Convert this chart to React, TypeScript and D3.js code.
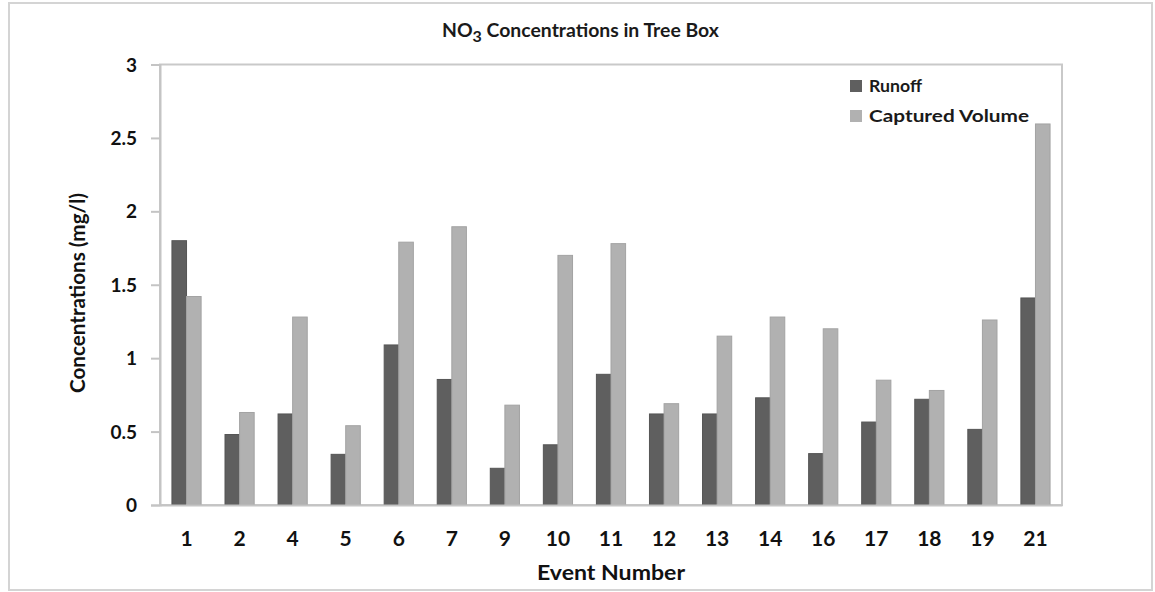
import { useEffect, useRef } from 'react';
import * as d3 from 'd3';

const EVENTS = ['1', '2', '4', '5', '6', '7', '9', '10', '11', '12', '13', '14', '16', '17', '18', '19', '21'];
const RUNOFF = [1.8, 0.48, 0.62, 0.345, 1.09, 0.855, 0.25, 0.41, 0.89, 0.62, 0.62, 0.73, 0.35, 0.565, 0.72, 0.515, 1.41];
const CAPTURED = [1.42, 0.63, 1.28, 0.54, 1.79, 1.895, 0.68, 1.7, 1.78, 0.69, 1.15, 1.28, 1.2, 0.85, 0.78, 1.26, 2.595];
const SERIES = ['Runoff', 'Captured Volume'];
const Y_TICKS = [0, 0.5, 1, 1.5, 2, 2.5, 3];

const COLORS = ['#5f5f5f', '#b1b1b1'];
const STROKES = ['#555555', '#a3a3a3'];
const FONT = 'Lato, "Open Sans", sans-serif';

const App = () => {
  const svgRef = useRef<SVGSVGElement>(null);

  useEffect(() => {
    if (!svgRef.current) return;
    d3.select(svgRef.current).selectAll('*').remove();

    const width = 1155;
    const height = 592;
    const plot = { left: 160, right: 1062, top: 64.5, bottom: 505 };

    const svg = d3.select(svgRef.current).attr('width', width).attr('height', height);

    // outer chart frame
    svg
      .append('rect')
      .attr('x', 9)
      .attr('y', 3)
      .attr('width', 1143)
      .attr('height', 587)
      .attr('fill', '#fff')
      .attr('stroke', '#d4d4d4')
      .attr('stroke-width', 2);

    const x0 = d3
      .scaleBand<string>()
      .domain(EVENTS)
      .range([plot.left, plot.right])
      .paddingInner(0.45)
      .paddingOuter(0.225);

    const x1 = d3.scaleBand<number>().domain([0, 1]).range([0, x0.bandwidth()]);

    const y = d3.scaleLinear().domain([0, 3]).range([plot.bottom, plot.top]);

    // plot area border (top / right)
    svg
      .append('rect')
      .attr('x', plot.left)
      .attr('y', plot.top)
      .attr('width', plot.right - plot.left)
      .attr('height', plot.bottom - plot.top)
      .attr('fill', 'none')
      .attr('stroke', '#c9c9c9')
      .attr('stroke-width', 2);

    // bars
    const rows = EVENTS.map((e, i) => ({ e, vals: [RUNOFF[i], CAPTURED[i]] }));
    const groups = svg
      .append('g')
      .selectAll('g')
      .data(rows)
      .join('g')
      .attr('transform', (d) => `translate(${x0(d.e)},0)`);

    groups
      .selectAll('rect')
      .data((d) => d.vals.map((v, k) => ({ v, k })))
      .join('rect')
      .attr('x', (d) => x1(d.k)!)
      .attr('y', (d) => y(d.v))
      .attr('width', x1.bandwidth())
      .attr('height', (d) => y(0) - y(d.v))
      .attr('fill', (d) => COLORS[d.k])
      .attr('stroke', (d) => STROKES[d.k])
      .attr('stroke-width', 1);

    // y axis
    const yAxis = d3
      .axisLeft(y)
      .tickValues(Y_TICKS)
      .tickSize(9)
      .tickPadding(14)
      .tickFormat((d) => String(d));

    const yg = svg.append('g').attr('transform', `translate(${plot.left},0)`).call(yAxis);
    yg.select('.domain').attr('stroke', '#c4c4c4').attr('stroke-width', 2);
    yg.selectAll('.tick line').attr('stroke', '#c4c4c4').attr('stroke-width', 2);
    yg.selectAll('.tick text')
      .attr('font-family', FONT)
      .attr('font-size', 19)
      .attr('font-weight', 'bold')
      .attr('fill', '#111')
      .attr('dy', '0.35em');

    // x axis
    const xAxis = d3.axisBottom(x0).tickSize(0).tickPadding(26);
    const xg = svg.append('g').attr('transform', `translate(0,${plot.bottom})`).call(xAxis);
    xg.select('.domain').attr('stroke', '#c4c4c4').attr('stroke-width', 2);
    xg.selectAll('.tick text')
      .attr('font-family', FONT)
      .attr('font-size', 21)
      .attr('font-weight', 'bold')
      .attr('fill', '#111');

    // title with subscript
    const title = svg
      .append('text')
      .attr('x', 442)
      .attr('y', 37)
      .attr('font-family', FONT)
      .attr('font-size', 19.4)
      .attr('font-weight', 'bold')
      .attr('fill', '#1a1a1a');
    title.append('tspan').text('NO');
    title.append('tspan').attr('font-size', 16).attr('dy', 5).text('3');
    title.append('tspan').attr('dy', -5).text(' Concentrations in Tree Box');

    // axis titles
    svg
      .append('text')
      .attr('x', 611)
      .attr('y', 580)
      .attr('text-anchor', 'middle')
      .attr('font-family', FONT)
      .attr('font-size', 21)
      .attr('font-weight', 'bold')
      .attr('fill', '#111')
      .attr('textLength', 148)
      .attr('lengthAdjust', 'spacingAndGlyphs')
      .text('Event Number');

    svg
      .append('text')
      .attr('transform', `translate(85,293) rotate(-90)`)
      .attr('text-anchor', 'middle')
      .attr('font-family', FONT)
      .attr('font-size', 20)
      .attr('font-weight', 'bold')
      .attr('fill', '#111')
      .attr('textLength', 200)
      .attr('lengthAdjust', 'spacingAndGlyphs')
      .text('Concentrations (mg/l)');

    // legend
    const legend = svg.append('g').attr('transform', 'translate(850,80)');
    SERIES.forEach((s, i) => {
      const row = legend.append('g').attr('transform', `translate(0,${i * 30})`);
      row.append('rect').attr('width', 12).attr('height', 12).attr('fill', COLORS[i]);
      row
        .append('text')
        .attr('x', 19)
        .attr('y', 12)
        .attr('font-family', FONT)
        .attr('font-size', 17)
        .attr('font-weight', 'bold')
        .attr('fill', '#1a1a1a')
        .attr('textLength', i === 0 ? 53 : 160)
        .attr('lengthAdjust', 'spacingAndGlyphs')
        .text(s);
    });
  }, []);

  return <svg ref={svgRef} style={{ position: 'absolute', left: 0, top: 0, display: 'block' }} />;
};

export default App;
